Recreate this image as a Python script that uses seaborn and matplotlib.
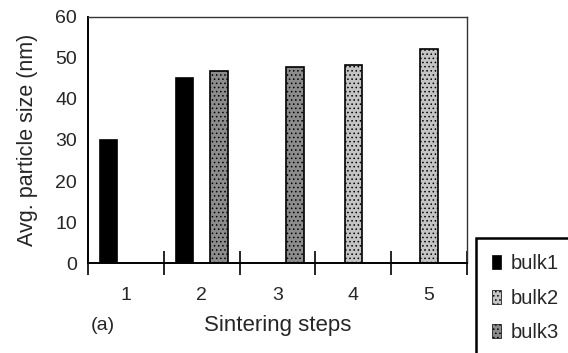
import matplotlib
matplotlib.use("Agg")
import matplotlib.pyplot as plt
import matplotlib.ticker as mticker
from matplotlib.patches import Patch
import seaborn as sns
import pandas as pd

# Average particle size after each sintering step, per bulk sample
steps = ["1", "2", "3", "4", "5"]
samples = ["bulk1", "bulk2", "bulk3"]
bulk1_sizes = [30, 45, None, None, None]
bulk2_sizes = [None, None, None, 48.2, 52]
bulk3_sizes = [None, 46.7, 47.8, None, None]
y_ticks = [0, 10, 20, 30, 40, 50, 60]

colors = {"bulk1": "#000000", "bulk2": "#c4c4c4", "bulk3": "#8c8c8c"}

rows = []
for name, vals in zip(samples, [bulk1_sizes, bulk2_sizes, bulk3_sizes]):
    for s, v in zip(steps, vals):
        if v is not None:
            rows.append({"step": s, "sample": name, "size": v})
df = pd.DataFrame(rows)

sns.set_theme(style="white")
plt.rcParams["font.family"] = ["Liberation Sans", "DejaVu Sans"]
plt.rcParams["hatch.linewidth"] = 0.6

fig = plt.figure(figsize=(5.68, 3.53), dpi=100)
ax = fig.add_axes([0.155, 0.254, 0.667, 0.699])

sns.barplot(data=df, x="step", y="size", hue="sample", order=steps,
            hue_order=samples, palette=colors, width=0.69, dodge=True,
            edgecolor="black", linewidth=1.2, saturation=1, ax=ax,
            legend=False)

# stipple texture on the grey series
for patch in ax.patches:
    fc = patch.get_facecolor()
    if fc[0] > 0.1:
        patch.set_hatch("....")

ax.set_xlim(-0.5, 4.5)
ax.set_ylim(0, 60)
ax.set_yticks(y_ticks)
ax.tick_params(axis="y", which="major", direction="inout", length=10,
               width=1.2, color="black", labelsize=14, pad=3)

# category boundaries carry the tick marks; labels sit at category centres
ax.xaxis.set_major_locator(mticker.FixedLocator([-0.5, 0.5, 1.5, 2.5, 3.5, 4.5]))
ax.xaxis.set_major_formatter(mticker.NullFormatter())
ax.xaxis.set_minor_locator(mticker.FixedLocator(range(len(steps))))
ax.xaxis.set_minor_formatter(mticker.FixedFormatter(steps))
ax.tick_params(axis="x", which="major", direction="inout", length=17,
               width=1.2, color="black", bottom=True)
ax.tick_params(axis="x", which="minor", length=0, labelsize=14, pad=17)

for side in ["left", "bottom"]:
    ax.spines[side].set_linewidth(1.4)
    ax.spines[side].set_color("black")
for side in ["top", "right"]:
    ax.spines[side].set_linewidth(1.0)
    ax.spines[side].set_color("#333333")

ax.set_ylabel("Avg. particle size (nm)", fontsize=15.5, labelpad=12)
ax.set_xlabel("Sintering steps", fontsize=16, labelpad=8)
fig.text(0.16, 0.079, "(a)", fontsize=14, ha="left", va="center")

handles = [Patch(facecolor=colors[s], edgecolor="black", linewidth=0.5,
                 hatch=None if s == "bulk1" else "....") for s in samples]
leg = fig.legend(handles, samples, loc="upper left",
                 bbox_to_anchor=(0.838, 0.326), fontsize=14.5,
                 frameon=True, fancybox=False, framealpha=1,
                 edgecolor="black", handlelength=0.45, handleheight=0.7,
                 handletextpad=0.45, labelspacing=0.78, borderpad=0.8,
                 borderaxespad=0)
leg.get_frame().set_linewidth(1.8)

fig.savefig("out.png", dpi=100)
